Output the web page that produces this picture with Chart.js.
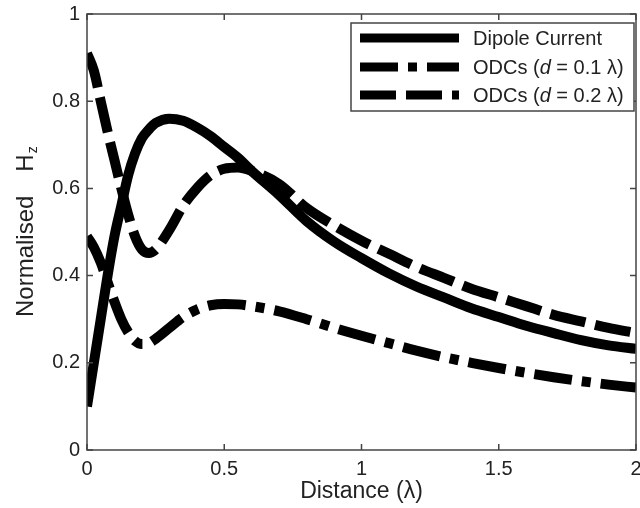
<!DOCTYPE html>
<html><head><meta charset="utf-8">
<style>html,body{margin:0;padding:0;background:#fff;} #wrap{width:640px;height:508px;position:relative;}</style>
<script src="https://cdn.jsdelivr.net/npm/chart.js@4.4.1/dist/chart.umd.min.js"></script>
</head><body><div id="wrap"><canvas id="c" width="640" height="508"></canvas></div>
<script>
const distance      = [0,0.025,0.05,0.075,0.1,0.125,0.15,0.175,0.2,0.225,0.25,0.3,0.35,0.4,0.45,0.5,0.55,0.6,0.7,0.8,0.9,1.0,1.1,1.2,1.3,1.4,1.5,1.6,1.7,1.8,1.9,2.0];
const dipoleCurrent = [0.10,0.20,0.30,0.40,0.49,0.56,0.63,0.68,0.715,0.735,0.75,0.76,0.755,0.74,0.72,0.695,0.67,0.64,0.585,0.525,0.478,0.44,0.405,0.375,0.35,0.325,0.305,0.285,0.268,0.252,0.24,0.232];
const odcD01        = [0.49,0.465,0.43,0.385,0.34,0.30,0.27,0.25,0.243,0.245,0.255,0.28,0.305,0.322,0.332,0.335,0.334,0.33,0.318,0.30,0.28,0.262,0.245,0.228,0.213,0.20,0.188,0.177,0.167,0.158,0.15,0.143];
const odcD02        = [0.91,0.87,0.80,0.73,0.665,0.60,0.54,0.49,0.46,0.452,0.46,0.505,0.56,0.60,0.63,0.645,0.648,0.64,0.61,0.555,0.515,0.48,0.45,0.42,0.395,0.37,0.35,0.33,0.31,0.295,0.28,0.268];
const seriesLabels  = ['Dipole Current','ODCs (d = 0.1 λ)','ODCs (d = 0.2 λ)'];
const xTickValues   = [0,0.5,1,1.5,2];
const yTickValues   = [0,0.2,0.4,0.6,0.8,1];
const xAxisTitle    = 'Distance (λ)';
const yAxisTitleMain = 'Normalised';
const yAxisTitleSym  = 'H';
const yAxisTitleSub  = 'z';

const FONT = "'Liberation Sans', Arial, Helvetica, sans-serif";
const AXIS_COLOR = '#444';
const TEXT_COLOR = '#222';

const toPts = ys => distance.map((x,i)=>({x:x,y:ys[i]}));
const styles = [
  {dash: []},
  {dash: [38,10,9,10]},
  {dash: [36,10]}
];
const seriesData = [dipoleCurrent, odcD01, odcD02];

const datasets = seriesData.map((ys,i)=>({
  label: seriesLabels[i],
  data: toPts(ys),
  borderColor: '#000',
  borderWidth: 10,
  borderDash: styles[i].dash,
  borderCapStyle: 'butt',
  borderJoinStyle: 'round',
  pointRadius: 0,
  fill: false,
  cubicInterpolationMode: 'monotone',
  order: i === 0 ? 1 : 0
}));

const framePlugin = {
  id: 'frame',
  afterDatasetsDraw(chart) {
    const ctx = chart.ctx, a = chart.chartArea;
    const xs = chart.scales.x, ys = chart.scales.y;
    ctx.save();
    ctx.strokeStyle = AXIS_COLOR;
    ctx.lineWidth = 1.5;
    ctx.setLineDash([]);
    ctx.strokeRect(a.left, a.top, a.right - a.left, a.bottom - a.top);
    const L = 6;
    ctx.beginPath();
    xTickValues.forEach(v=>{
      const px = xs.getPixelForValue(v);
      ctx.moveTo(px, a.bottom); ctx.lineTo(px, a.bottom - L);
      ctx.moveTo(px, a.top); ctx.lineTo(px, a.top + L);
    });
    yTickValues.forEach(v=>{
      const py = ys.getPixelForValue(v);
      ctx.moveTo(a.left, py); ctx.lineTo(a.left + L, py);
      ctx.moveTo(a.right, py); ctx.lineTo(a.right - L, py);
    });
    ctx.stroke();
    ctx.restore();
  },
  afterDraw(chart) {
    const ctx = chart.ctx, a = chart.chartArea;
    // y axis title with subscript
    ctx.save();
    ctx.fillStyle = TEXT_COLOR;
    const fs = 24;
    const gap = 24;
    ctx.font = fs + 'px ' + FONT;
    const w1 = ctx.measureText(yAxisTitleMain).width;
    const w2 = ctx.measureText(yAxisTitleSym).width;
    ctx.translate(33, 317);
    ctx.rotate(-Math.PI/2);
    ctx.textBaseline = 'alphabetic';
    ctx.textAlign = 'left';
    ctx.fillText(yAxisTitleMain, 0, 0);
    ctx.fillText(yAxisTitleSym, w1 + gap, 0);
    ctx.font = Math.round(fs*0.6) + 'px ' + FONT;
    ctx.fillText(yAxisTitleSub, w1 + gap + w2 + 1, 4);
    ctx.restore();

    // legend
    ctx.save();
    const bx = 351, by = 23, bw = 283, bh = 88;
    ctx.fillStyle = '#fff';
    ctx.fillRect(bx, by, bw, bh);
    ctx.strokeStyle = AXIS_COLOR;
    ctx.lineWidth = 1.5;
    ctx.strokeRect(bx, by, bw, bh);
    const rows = [38, 67, 95];
    chart.data.datasets.forEach((ds, i)=>{
      const y = rows[i];
      ctx.beginPath();
      ctx.setLineDash(ds.borderDash);
      ctx.lineCap = 'butt';
      ctx.strokeStyle = '#000';
      ctx.lineWidth = 9;
      ctx.moveTo(360, y); ctx.lineTo(459, y);
      ctx.stroke();
      ctx.setLineDash([]);
      ctx.fillStyle = TEXT_COLOR;
      ctx.textBaseline = 'middle';
      ctx.textAlign = 'left';
      const lab = ds.label;
      const m = lab.match(/^(.*\()d( .*)$/);
      let tx = 473;
      if (m) {
        ctx.font = '20px ' + FONT;
        ctx.fillText(m[1], tx, y+1); tx += ctx.measureText(m[1]).width;
        ctx.font = 'italic 20px ' + FONT;
        ctx.fillText('d', tx, y+1); tx += ctx.measureText('d').width;
        ctx.font = '20px ' + FONT;
        ctx.fillText(m[2], tx, y+1);
      } else {
        ctx.font = '20px ' + FONT;
        ctx.fillText(lab, tx, y+1);
      }
    });
    ctx.restore();
  }
};

new Chart(document.getElementById('c'), {
  type: 'line',
  data: { datasets },
  options: {
    responsive: false,
    animation: false,
    devicePixelRatio: 1,
    layout: { padding: { left: 0, top: 14, right: 4, bottom: 0 } },
    plugins: { legend: { display: false }, tooltip: { enabled: false } },
    scales: {
      x: {
        type: 'linear', min: 0, max: 2,
        grid: { display: false, drawTicks: false },
        border: { display: false },
        afterBuildTicks: s => { s.ticks = xTickValues.map(v=>({value:v})); },
        ticks: { autoSkip: false, maxRotation: 0, padding: 7, color: TEXT_COLOR,
                 font: { family: FONT, size: 20 },
                 callback: v => String(v) },
        title: { display: true, text: xAxisTitle, color: TEXT_COLOR,
                 font: { family: FONT, size: 23 }, padding: { top: 0, bottom: 3 } },
        afterFit: s => { s.height = 58; s.paddingLeft = 0; s.paddingRight = 0; }
      },
      y: {
        type: 'linear', min: 0, max: 1,
        grid: { display: false, drawTicks: false },
        border: { display: false },
        afterBuildTicks: s => { s.ticks = yTickValues.map(v=>({value:v})); },
        ticks: { autoSkip: false, padding: 7, color: TEXT_COLOR,
                 font: { family: FONT, size: 20 },
                 callback: v => String(Math.round(v*10)/10) },
        afterFit: s => { s.width = 87; s.paddingTop = 0; s.paddingBottom = 0; }
      }
    }
  },
  plugins: [framePlugin]
});
</script>
</body></html>
